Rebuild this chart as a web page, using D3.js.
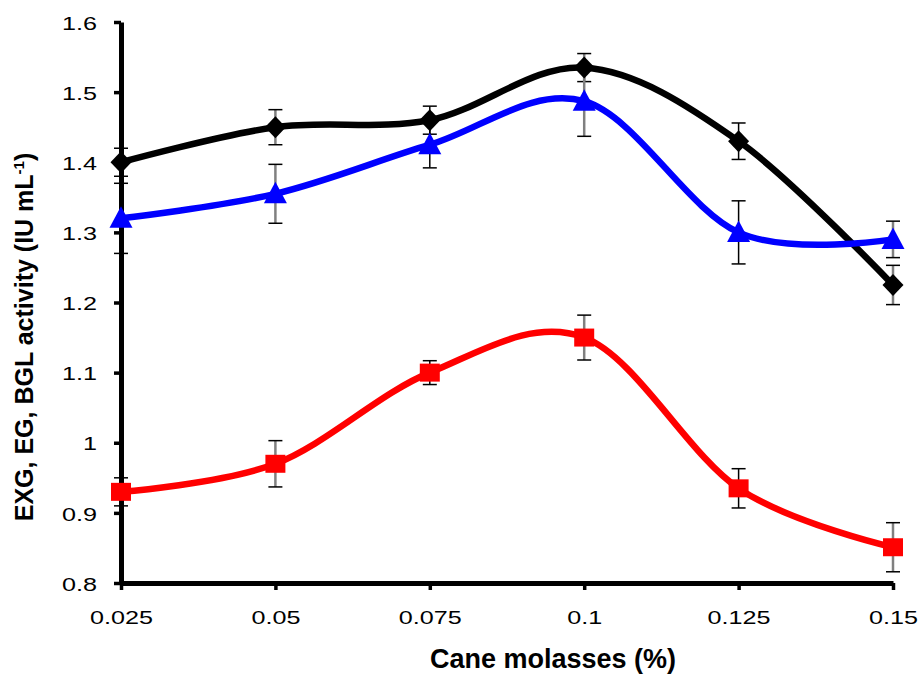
<!DOCTYPE html>
<html>
<head>
<meta charset="utf-8">
<script src="https://cdn.jsdelivr.net/npm/d3@7/dist/d3.min.js"></script>
<style>
  html, body { margin: 0; padding: 0; background: #fff; }
  svg { display: block; font-family: "Liberation Sans", Arial, sans-serif; }
</style>
</head>
<body>
<div id="chart"></div>
<script>
// cane molasses concentration (%)
var molasses = [0.025, 0.05, 0.075, 0.1, 0.125, 0.15];
var xTickLabels = ["0.025", "0.05", "0.075", "0.1", "0.125", "0.15"];
var yTicks = [0.8, 0.9, 1.0, 1.1, 1.2, 1.3, 1.4, 1.5, 1.6];
var yTickLabels = ["0.8", "0.9", "1", "1.1", "1.2", "1.3", "1.4", "1.5", "1.6"];

// activity values and errors
var exg = [1.40, 1.45, 1.46, 1.535, 1.43, 1.225];
var exgErr = [0.02, 0.025, 0.02, 0.02, 0.026, 0.028];
var eg = [1.32, 1.355, 1.425, 1.487, 1.30, 1.29];
var egErr = [0.05, 0.042, 0.033, 0.05, 0.045, 0.026];
var bgl = [0.93, 0.97, 1.10, 1.15, 0.935, 0.851];
var bglErr = [0.02, 0.033, 0.017, 0.032, 0.028, 0.035];

var width = 922, height = 675;

var svg = d3.select("#chart").append("svg")
  .attr("width", width)
  .attr("height", height);

var x = d3.scaleLinear().domain([0.025, 0.15]).range([121, 893]);
var y = d3.scaleLinear().domain([0.8, 1.6]).range([583, 22]);

// axes
var yAxis = d3.axisLeft(y)
  .tickValues(yTicks)
  .tickFormat(function(d, i) { return yTickLabels[i]; })
  .tickSize(7)
  .tickSizeOuter(0);

var xAxis = d3.axisBottom(x)
  .tickValues(molasses)
  .tickFormat(function(d, i) { return xTickLabels[i]; })
  .tickSize(7)
  .tickSizeOuter(0);

var gy = svg.append("g").attr("transform", "translate(121,0)").call(yAxis);
var gx = svg.append("g").attr("transform", "translate(0,583)").call(xAxis);

[gx, gy].forEach(function(g) {
  g.select(".domain").attr("stroke", "#000").attr("stroke-width", 5);
  g.selectAll(".tick line").attr("stroke", "#000").attr("stroke-width", 3.5);
  g.selectAll(".tick text").attr("fill", "#000").style("font-size", "18px");
});

// tick labels in the picture are stretched sideways
gy.selectAll(".tick text")
  .attr("x", null).attr("dy", null)
  .attr("text-anchor", "end")
  .attr("dominant-baseline", "central")
  .attr("transform", "translate(-24,1) scale(1.4,1)");

gx.selectAll(".tick text")
  .attr("y", null).attr("dy", null)
  .attr("text-anchor", "middle")
  .attr("transform", "translate(0,41) scale(1.4,1)");

// axis titles
svg.append("text")
  .attr("x", 553).attr("y", 668)
  .attr("text-anchor", "middle")
  .style("font-size", "27px")
  .style("font-weight", "bold")
  .text("Cane molasses (%)");

var yt = svg.append("text")
  .attr("transform", "translate(33,337) rotate(-90)")
  .attr("text-anchor", "middle")
  .style("font-size", "25px")
  .style("font-weight", "bold");
yt.append("tspan").text("EXG, EG, BGL activity (IU mL");
yt.append("tspan").attr("dy", -9).style("font-size", "15px").text("-1");
yt.append("tspan").attr("dy", 9).text(")");

var series = [
  { values: exg, err: exgErr, color: "#000000", shape: "diamond" },
  { values: eg, err: egErr, color: "#0000ff", shape: "triangle" },
  { values: bgl, err: bglErr, color: "#ff0000", shape: "square" }
];

// error bars
series.forEach(function(s) {
  var g = svg.append("g");
  s.values.forEach(function(v, i) {
    var cx = x(molasses[i]);
    var odd = i % 2 === 1;
    g.append("line")
      .attr("x1", cx).attr("x2", cx)
      .attr("y1", y(v + s.err[i])).attr("y2", y(v - s.err[i]))
      .attr("stroke", odd ? "#808080" : "#000")
      .attr("stroke-width", odd ? 2.5 : 1.5);
    [v + s.err[i], v - s.err[i]].forEach(function(e) {
      g.append("line")
        .attr("x1", cx - 7).attr("x2", cx + 7)
        .attr("y1", y(e)).attr("y2", y(e))
        .attr("stroke", "#000")
        .attr("stroke-width", 1.5);
    });
  });
});

var line = d3.line()
  .x(function(d, i) { return x(molasses[i]); })
  .y(function(d) { return y(d); })
  .curve(d3.curveCatmullRom.alpha(0));

var symbols = {
  diamond: "M0,-11L10.5,0L0,11L-10.5,0Z",
  triangle: "M0,-12L11.5,9.5L-11.5,9.5Z",
  square: "M-10,-9L10,-9L10,9L-10,9Z"
};

series.forEach(function(s) {
  svg.append("path")
    .datum(s.values)
    .attr("d", line)
    .attr("fill", "none")
    .attr("stroke", s.color)
    .attr("stroke-width", 6.5)
    .attr("stroke-linejoin", "round");

  svg.append("g").selectAll("path")
    .data(s.values)
    .enter()
    .append("path")
    .attr("d", symbols[s.shape])
    .attr("transform", function(d, i) {
      return "translate(" + x(molasses[i]) + "," + y(d) + ")";
    })
    .attr("fill", s.color);
});
</script>
</body>
</html>
